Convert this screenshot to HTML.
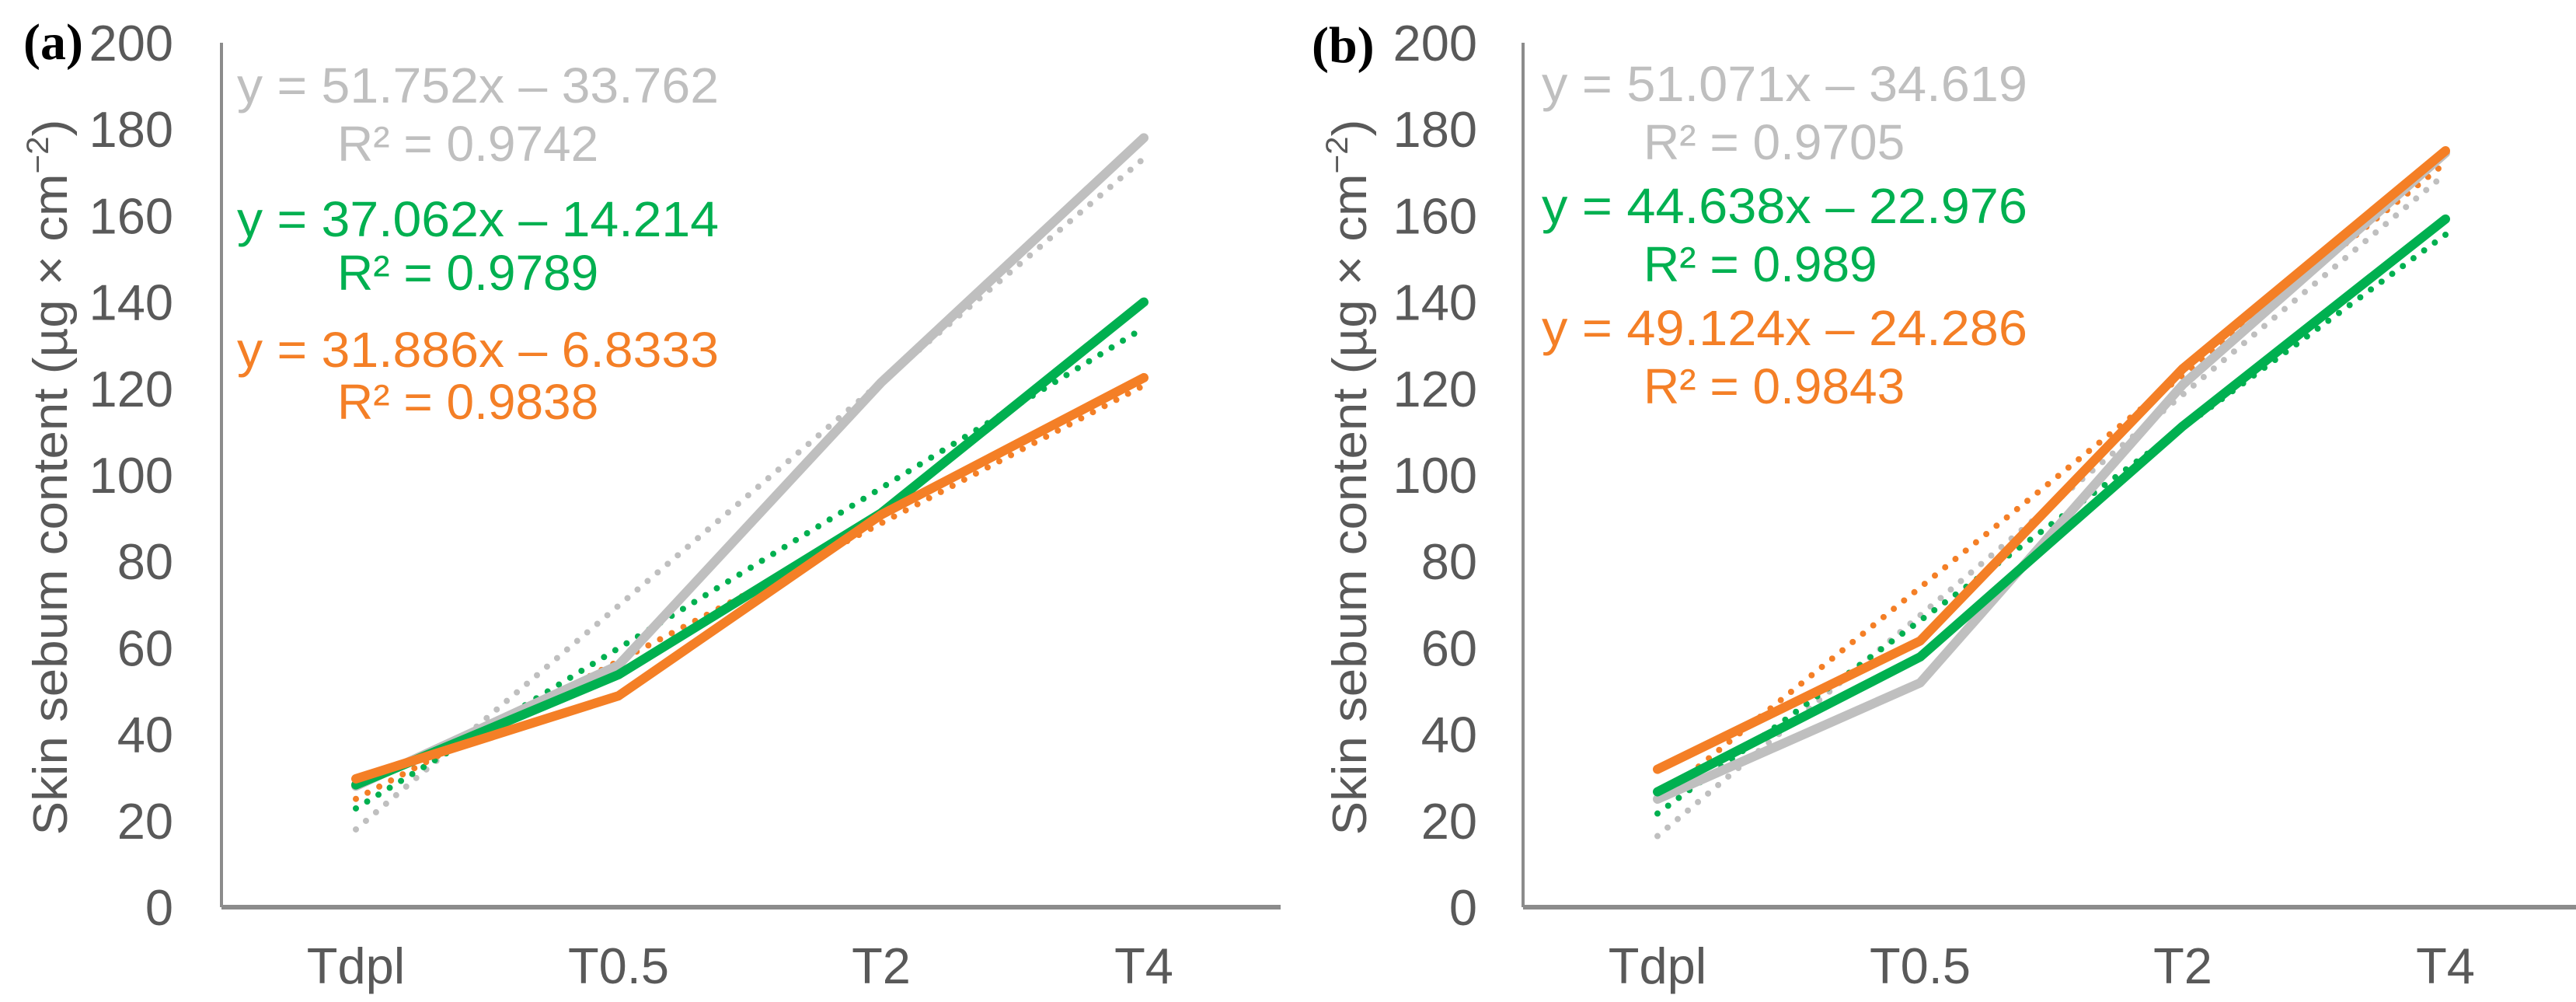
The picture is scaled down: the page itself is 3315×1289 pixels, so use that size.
<!DOCTYPE html>
<html><head><meta charset="utf-8"><style>
html,body{margin:0;padding:0;background:#fff;}
svg{display:block;font-family:"Liberation Sans",Arial,sans-serif;}
</style></head><body>
<svg id="chart" width="3315" height="1289" viewBox="0 0 3315 1289" xmlns="http://www.w3.org/2000/svg"></svg>
<script>
const categories = ["Tdpl", "T0.5", "T2", "T4"];
const yTicks = [0, 20, 40, 60, 80, 100, 120, 140, 160, 180, 200];
const aGray = [28, 56, 121.4, 178];
const aGreen = [28.3, 53.8, 91.2, 140];
const aOrange = [29.7, 48.9, 90.8, 122.5];
const aSlopes = [51.752, 37.062, 31.886];
const aIntercepts = [-33.762, -14.214, -6.8333];
const aEqLabels = ["y = 51.752x \u2013 33.762", "y = 37.062x \u2013 14.214", "y = 31.886x \u2013 6.8333"];
const aR2Labels = ["R\u00b2 = 0.9742", "R\u00b2 = 0.9789", "R\u00b2 = 0.9838"];
const bGray = [25, 51.9, 120.9, 174.5];
const bGreen = [26.7, 57.9, 111.3, 159.2];
const bOrange = [31.9, 61.6, 124.6, 175];
const bSlopes = [51.071, 44.638, 49.124];
const bIntercepts = [-34.619, -22.976, -24.286];
const bEqLabels = ["y = 51.071x \u2013 34.619", "y = 44.638x \u2013 22.976", "y = 49.124x \u2013 24.286"];
const bR2Labels = ["R\u00b2 = 0.9705", "R\u00b2 = 0.989", "R\u00b2 = 0.9843"];

const NS = "http://www.w3.org/2000/svg";
const svg = document.getElementById("chart");
const colors = ["#bfbfbf", "#00b050", "#f47f26"];
const seriesNames = ["gray", "green", "orange"];

function mk(tag, attrs, parent) {
  const e = document.createElementNS(NS, tag);
  for (const k in attrs) e.setAttribute(k, attrs[k]);
  (parent || svg).appendChild(e);
  return e;
}

function panel(p) {
  const g = mk("g", {});
  
  
  const y0 = 1167, pxPerUnit = 5.56;
  const yS = v => y0 - v * pxPerUnit;
  const xS = i => p.axisX + 173 + i * 338;

  // axes
  const ya = mk("line", {x1: p.axisX, y1: yS(200), x2: p.axisX, y2: y0, stroke: "#8c8c8c", "stroke-width": 4}, g);
  
  
  const xa = mk("line", {x1: p.axisX, y1: y0, x2: p.axisEnd, y2: y0, stroke: "#8c8c8c", "stroke-width": 6}, g);
  
  

  yTicks.forEach(t => {
    const tx = mk("text", {x: p.tickRight, y: yS(t) + 23, "text-anchor": "end", "font-size": 65, fill: "#595959"}, g);
    tx.textContent = t;
    
    
  });
  categories.forEach((c, i) => {
    const tx = mk("text", {x: xS(i), y: 1265, "text-anchor": "middle", "font-size": 65, fill: "#595959"}, g);
    tx.textContent = c;
    
    
  });

  // y title
  const tt = mk("text", {x: 0, y: 0, "text-anchor": "middle", "font-size": 62, fill: "#595959",
    transform: "translate(" + (p.titleX + 22) + ",614) rotate(-90)", textLength: 921, lengthAdjust: "spacingAndGlyphs"}, g);
  tt.textContent = "Skin sebum content (\u00b5g \u00d7 cm";
  const sup = mk("tspan", {"font-size": 40, dy: -24}, tt);
  sup.textContent = "\u22122";
  const cl = mk("tspan", {dy: 24}, tt);
  cl.textContent = ")";
  
  

  // panel letter
  const pl = mk("text", {x: p.letterX, y: p.letterY, "font-size": 66, "font-weight": "bold", fill: "#000",
    "font-family": "'Liberation Serif',serif"}, g);
  pl.textContent = "(" + p.id + ")";
  
  

  // trendlines (dotted) then series
  p.series.forEach((s, k) => {
    const x1 = 1, x2 = 4;
    const tl = mk("line", {x1: xS(0), y1: yS(p.slopes[k] * x1 + p.intercepts[k]), x2: xS(3), y2: yS(p.slopes[k] * x2 + p.intercepts[k]),
      stroke: colors[k], "stroke-width": 8, "stroke-linecap": "round", "stroke-dasharray": "0 17"}, g);
    
    
  });
  p.series.forEach((s, k) => {
    const pts = s.map((v, i) => xS(i) + "," + yS(v)).join(" ");
    const pl2 = mk("polyline", {points: pts, fill: "none", stroke: colors[k], "stroke-width": 12,
      "stroke-linejoin": "round", "stroke-linecap": "round"}, g);
    
    
  });

  // equations
  for (let k = 0; k < 3; k++) {
    const e = mk("text", {x: p.eqX, y: p.eqY[k] + 23, "font-size": 64, fill: colors[k], textLength: p.eqW, lengthAdjust: "spacingAndGlyphs"}, g);
    e.textContent = p.eq[k];
    
    
    const r = mk("text", {x: p.r2X, y: p.r2Y[k] + 23, "font-size": 64, fill: colors[k]}, g);
    r.textContent = p.r2[k];
    
    
  }
}

panel({id: "a", axisX: 285, axisEnd: 1648, tickRight: 223, titleX: 64, letterX: 30, letterY: 76,
  series: [aGray, aGreen, aOrange], slopes: aSlopes, intercepts: aIntercepts,
  eq: aEqLabels, r2: aR2Labels, eqX: 305, eqW: 620, r2X: 434,
  eqY: [109, 281, 449], r2Y: [184, 350, 516]});
panel({id: "b", axisX: 1960, axisEnd: 3315, tickRight: 1901, titleX: 1736, letterX: 1688, letterY: 80,
  series: [bGray, bGreen, bOrange], slopes: bSlopes, intercepts: bIntercepts,
  eq: bEqLabels, r2: bR2Labels, eqX: 1984, eqW: 625, r2X: 2115,
  eqY: [107, 264, 421], r2Y: [182, 339, 496]});
</script>
</body></html>
